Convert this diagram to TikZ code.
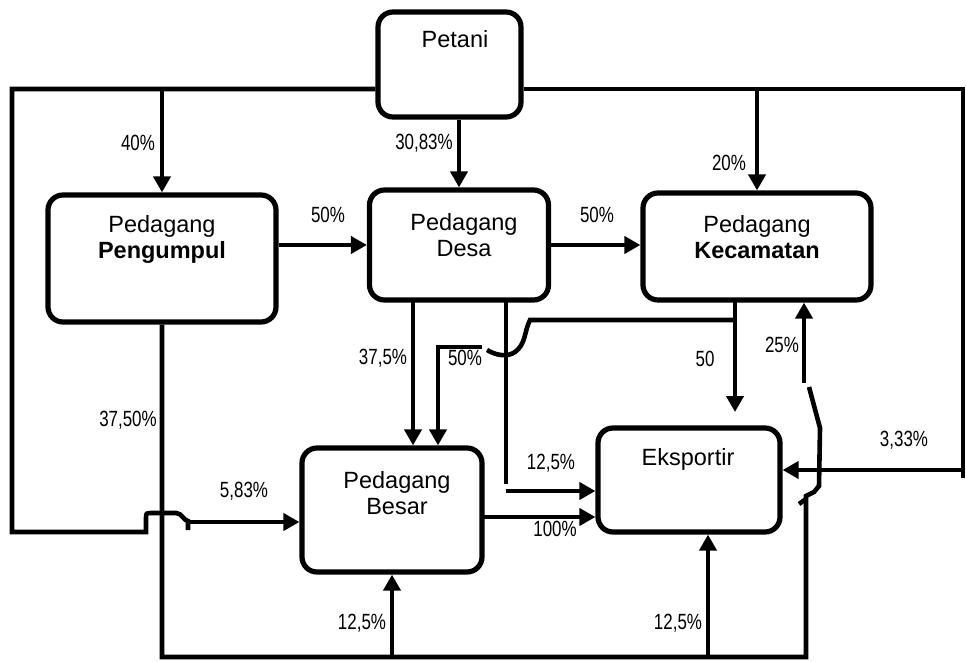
\documentclass[tikz,border=0pt]{standalone}
\usepackage{fontspec}
\setmainfont{Liberation Sans}
\newfontfamily\narrowfont[FakeStretch=0.77]{Liberation Sans}
\usetikzlibrary{arrows.meta, positioning}

\tikzset{
  actor/.style={draw, line width=5.2pt, rounded corners=15pt, inner sep=0pt},
  actorlabel/.style={inner sep=0pt, align=center, font=\fontsize{23.5}{26}\selectfont},
  pct/.style={inner sep=0pt, font=\narrowfont\fontsize{22}{24}\selectfont},
  flow/.style={line width=4.6pt},
  arr/.style={-{Triangle[length=16pt, width=17pt]}},
}

\begin{document}
\begin{tikzpicture}[x=1pt, y=-1pt]
  \useasboundingbox (0,0) rectangle (966,661);

  % Actors
  \node[actor, minimum width=143pt, minimum height=105pt] (petani) at (449.5,64.5) {};
  \node[actor, minimum width=228pt, minimum height=127pt] (pengumpul) at (162,258.5) {};
  \node[actor, minimum width=179pt, minimum height=110pt] (desa) at (459,245) {};
  \node[actor, minimum width=228pt, minimum height=107pt] (kecamatan) at (757,246.5) {};
  \node[actor, minimum width=180pt, minimum height=124pt] (besar) at (392,510) {};
  \node[actor, minimum width=182pt, minimum height=104pt] (eksportir) at (689,480) {};

  \node[actorlabel] (tpetani) at (455,39) {Petani};
  \node[actorlabel] (tpengumpul) at (162,239.5) {Pedagang\\\textbf{Pengumpul}};
  \node[actorlabel] (tdesa) at (464,235) {Pedagang\\Desa};
  \node[actorlabel] (tkecamatan) at (757,237) {Pedagang\\\textbf{Kecamatan}};
  \node[actorlabel] (tbesar) at (397,493.5) {Pedagang\\Besar};
  \node[actorlabel] (teksportir) at (688,459) {Eksportir};

  % Petani flows
  \coordinate (busl) at (12,89);
  \coordinate (busr) at (963,89);
  \coordinate (jump) at (188,522);
  \draw[flow] (petani.west |- busl) -- (busl) -- (12,532) -- (146,532) -- (146,519)
    .. controls (146,513) .. (152,513) -- (176,513)
    .. controls (182,513) and (184,521) .. (188,521) -- (188,530);
  \draw[flow, arr] (jump) -- (jump -| besar.west);
  \draw[flow, arr] (pengumpul.north |- busl) -- (pengumpul.north);
  \draw[flow, arr] (desa.north |- petani.south) -- (desa.north);
  \draw[flow] (petani.east |- busr) -- (busr) -- (963,478);
  \draw[flow, arr] (kecamatan.north |- busr) -- (kecamatan.north);
  \coordinate (rin) at (963,470);
  \draw[flow, arr] (rin) -- (rin -| eksportir.east);

  % Pedagang flows
  \draw[flow, arr] (pengumpul.east |- desa.west) -- (desa.west);
  \draw[flow, arr] (desa.east) -- (desa.east -| kecamatan.west);
  \coordinate (dl) at (413,300);
  \draw[flow, arr] (dl) -- (dl |- besar.north);
  \coordinate (dr) at (506,300);
  \coordinate (drin) at (506,491);
  \draw[flow] (dr) -- (506,484);
  \draw[flow, arr] (drin) -- (drin -| eksportir.west);
  \coordinate (kd) at (735,300);
  \coordinate (kend) at (735,412);
  \draw[flow, arr] (kd) -- (kend);
  \draw[flow] (735,320) -- (530,320)
    .. controls (524,332) and (526,344) .. (515,352)
    .. controls (508,357) and (497,356) .. (487,350);
  \coordinate (bl) at (438,347);
  \draw[flow, arr] (482,347) -- (bl) -- (bl |- besar.north);
  \coordinate (bout) at (482,517);
  \draw[flow, arr] (bout) -- (bout -| eksportir.west);

  % Bottom bus
  \coordinate (busb) at (806,657);
  \draw[flow] (pengumpul.south) -- (pengumpul.south |- busb) -- (busb) -- (806,496)
    -- (814,492) -- (819,486) -- (820,428) -- (809,387);
  \draw[flow] (799,504) -- (806,499);
  \coordinate (kup) at (804,383);
  \draw[flow, arr] (kup) -- (kup |- kecamatan.south);
  \coordinate (bb) at (392,657);
  \draw[flow, arr] (bb) -- (bb |- besar.south);
  \coordinate (eb) at (708,657);
  \draw[flow, arr] (eb) -- (eb |- eksportir.south);

  % Shares
  \node[pct] (l40) at (138,143) {40\%};
  \node[pct] (l3083) at (424,143) {30,83\%};
  \node[pct] (l20) at (729,163) {20\%};
  \node[pct] (l50a) at (328,215) {50\%};
  \node[pct] (l50b) at (597,215) {50\%};
  \node[pct] (l375) at (383,358) {37,5\%};
  \node[pct] (l50c) at (465,358) {50\%};
  \node[pct] (l50d) at (705,359) {50};
  \node[pct] (l25) at (782,345) {25\%};
  \node[pct] (l3750) at (128,420) {37,50\%};
  \node[pct] (l583) at (244,491) {5,83\%};
  \node[pct] (l125a) at (551,463) {12,5\%};
  \node[pct] (l100) at (555,529) {100\%};
  \node[pct] (l333) at (904,440) {3,33\%};
  \node[pct] (l125b) at (362,623) {12,5\%};
  \node[pct] (l125c) at (678,623) {12,5\%};
\end{tikzpicture}
\end{document}
